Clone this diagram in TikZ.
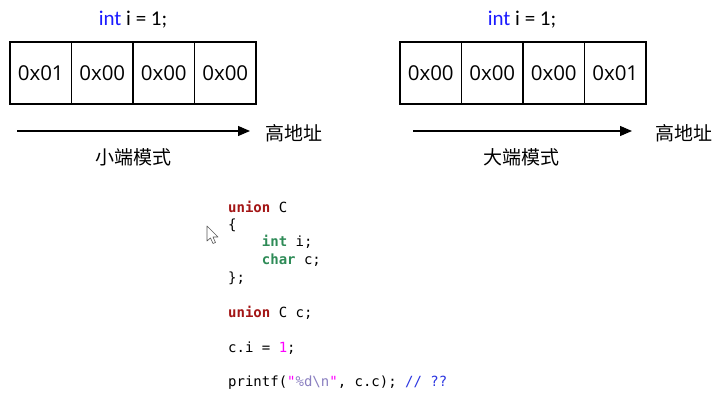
\documentclass[tikz,border=0pt]{standalone}
\usepackage{fontspec}
\setmainfont{Open Sans}
\newfontfamily\cjkfont{Noto Sans CJK SC}
\newfontfamily\calfont{Carlito}
\newfontfamily\codefont{DejaVu Sans Mono}
\usetikzlibrary{arrows.meta}
\definecolor{kwred}{HTML}{A31515}
\definecolor{kwgreen}{HTML}{2E8B57}
\definecolor{numpink}{HTML}{FF00FF}
\definecolor{strpurple}{HTML}{8A7FC0}
\definecolor{cmtblue}{HTML}{2B35E0}
\definecolor{intblue}{HTML}{1A1AFF}
\tikzset{
  cell/.style={draw, line width=1.2pt, minimum width=61.5pt, minimum height=62pt, inner sep=0pt, outer sep=0pt, font=\fontsize{20.5}{22}\selectfont, anchor=west},
  decl/.style={font=\calfont\fontsize{21}{24}\selectfont},
  cjk/.style={font=\cjkfont\fontsize{19}{22}\selectfont},
  addrarrow/.style={line width=1.1pt, -{Triangle[length=12pt,width=10pt]}},
  code/.style={anchor=west, inner sep=0pt, font=\codefont\fontsize{14}{16}\selectfont},
}
\newcommand{\kw}[1]{\textcolor{kwred}{\bfseries #1}}
\newcommand{\ty}[1]{\textcolor{kwgreen}{\bfseries #1}}
\begin{document}
\begin{tikzpicture}[x=1pt,y=-1pt]
\useasboundingbox (0,0) rectangle (726,414);
% left
\node[decl] (dl) at (133,20) {\textcolor{intblue}{int} i = 1;};
\node[cell] (l1) at (10,73) {0x01};
\node[cell] (l2) at (l1.east) {0x00};
\node[cell] (l3) at (l2.east) {0x00};
\node[cell] (l4) at (l3.east) {0x00};
\coordinate (las) at (17,131);
\coordinate (lae) at (250,131);
\draw[addrarrow] (las) -- (lae);
\node[cjk, anchor=west] (lh) at (262,133) {高地址};
\node[cjk] (lm) at (133,157) {小端模式};
% right
\node[decl] (dr) at (522,20) {\textcolor{intblue}{int} i = 1;};
\node[cell] (r1) at (400,73) {0x00};
\node[cell] (r2) at (r1.east) {0x00};
\node[cell] (r3) at (r2.east) {0x00};
\node[cell] (r4) at (r3.east) {0x01};
\coordinate (ras) at (413,131);
\coordinate (rae) at (632,131);
\draw[addrarrow] (ras) -- (rae);
\node[cjk, anchor=west] (rh) at (652,133) {高地址};
\node[cjk] (rm) at (521,157) {大端模式};
% code
\node[code] (c1) at (228,207) {\kw{union} C};
\node[code] (c2) at (228,225) {\{};
\node[code] (c3) at (228,242) {\phantom{xxxx}\ty{int} i;};
\node[code] (c4) at (228,260) {\phantom{xxxx}\ty{char} c;};
\node[code] (c5) at (228,278) {\};};
\node[code] (c6) at (228,313) {\kw{union} C c;};
\node[code] (c7) at (228,348) {c.i = \textcolor{numpink}{1};};
\node[code] (c8) at (228,383) {printf(\textcolor{numpink}{"}\textcolor{strpurple}{\%d\textbackslash n}\textcolor{numpink}{"}, c.c); \textcolor{cmtblue}{// ??}};
% cursor
\draw[gray!70!black, fill=white, line width=0.6pt, line join=round]
  (207,226) -- (207,241) -- (210.5,238) -- (213,243.5) -- (215.5,242.5) -- (213,237) -- (218,237) -- cycle;
\end{tikzpicture}
\end{document}
